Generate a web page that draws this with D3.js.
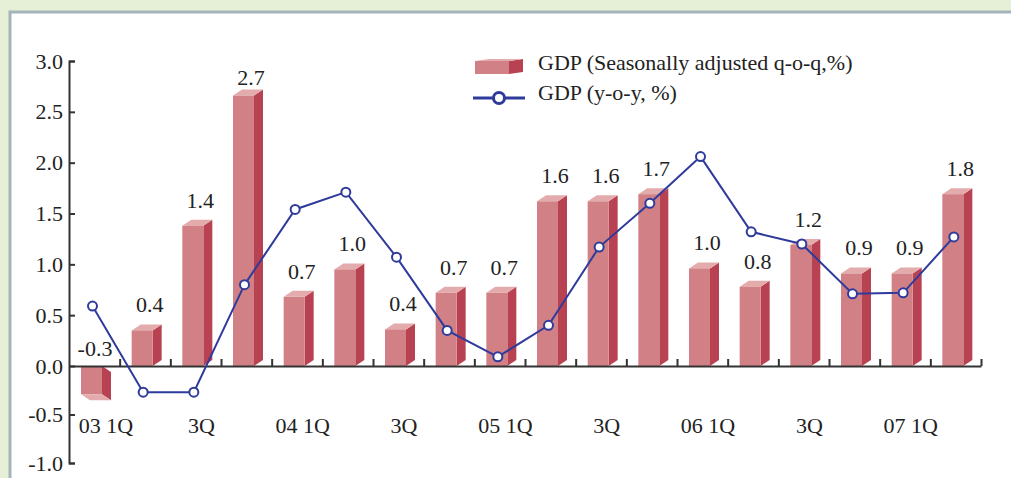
<!DOCTYPE html>
<html>
<head>
<meta charset="utf-8">
<script src="https://cdn.jsdelivr.net/npm/d3@7"></script>
<style>
  body { margin: 0; background: #e6f0d6; }
  svg { display: block; font-family: "Liberation Serif", "Times New Roman", serif; }
</style>
</head>
<body>
<div class="chart"></div>
<script>
var svgWidth = 1011;
var svgHeight = 478;
var fontSize = 22;

// quarters, 03 1Q .. 07 2Q
var quarters = ["03 1Q", "2Q", "3Q", "4Q", "04 1Q", "2Q", "3Q", "4Q",
  "05 1Q", "2Q", "3Q", "4Q", "06 1Q", "2Q", "3Q", "4Q", "07 1Q", "2Q"];

// seasonally adjusted q-o-q (bar heights as drawn)
var qoq = [-0.29, 0.35, 1.38, 2.66, 0.68, 0.95, 0.36, 0.72, 0.72,
  1.62, 1.62, 1.69, 0.96, 0.78, 1.19, 0.91, 0.91, 1.69];

// printed labels above the bars
var qoqLabels = ["-0.3", "0.4", "1.4", "2.7", "0.7", "1.0", "0.4", "0.7", "0.7",
  "1.6", "1.6", "1.7", "1.0", "0.8", "1.2", "0.9", "0.9", "1.8"];

// y-o-y
var yoy = [0.59, -0.27, -0.27, 0.80, 1.54, 1.71, 1.07, 0.35, 0.09,
  0.40, 1.17, 1.60, 2.06, 1.32, 1.20, 0.71, 0.72, 1.27];

var yTicks = [-1.0, -0.5, 0.0, 0.5, 1.0, 1.5, 2.0, 2.5, 3.0];

var legendNames = ["GDP (Seasonally adjusted q-o-q,%)", "GDP (y-o-y, %)"];

var barFront = "#d18185";
var barSide = "#b94252";
var barTop = "#e3abac";
var lineColor = "#2f3b9b";

var svg = d3.select(".chart")
  .append("svg")
  .attr("width", svgWidth)
  .attr("height", svgHeight);

// white panel with grey border
svg.append("rect")
  .attr("x", 10)
  .attr("y", 12)
  .attr("width", svgWidth)
  .attr("height", svgHeight)
  .attr("fill", "#fff")
  .attr("stroke", "#a4b4bc")
  .attr("stroke-width", 3);

// scales
var xBand = d3.scaleBand()
  .domain(d3.range(quarters.length))
  .range([69, 981])
  .padding(0);

var xIdx = d3.scaleLinear()
  .domain([0, quarters.length])
  .range([69, 981]);

// the printed axis is slightly compressed below zero
var yScale = d3.scaleLinear()
  .domain([-1, 0, 3])
  .range([463, 366, 61]);

var frontW = 21, depthX = 9, depthY = 6, frontOff = 12;

// bars
var bars = svg.append("g").selectAll("g")
  .data(qoq)
  .enter()
  .append("g");

bars.each(function(v, i) {
  var g = d3.select(this);
  var x0 = xBand(i) + frontOff;
  var x1 = x0 + frontW;
  var y0 = yScale(0);
  var yv = yScale(v);
  var s = v >= 0 ? -1 : 1;
  // side face
  g.append("path")
    .attr("d", d3.line()([[x1, y0], [x1 + depthX, y0 + s * depthY], [x1 + depthX, yv + s * depthY], [x1, yv]]) + "Z")
    .attr("fill", barSide);
  // top (or bottom) face
  g.append("path")
    .attr("d", d3.line()([[x0, yv], [x1, yv], [x1 + depthX, yv + s * depthY], [x0 + depthX, yv + s * depthY]]) + "Z")
    .attr("fill", barTop);
  // front face
  g.append("rect")
    .attr("x", x0)
    .attr("y", Math.min(y0, yv))
    .attr("width", frontW)
    .attr("height", Math.abs(yv - y0))
    .attr("fill", barFront);
});

// value labels
svg.append("g").selectAll("text")
  .data(qoq)
  .enter()
  .append("text")
  .attr("x", (d, i) => xBand(i) + frontOff + 18 - (d < 0 ? 4 : 0))
  .attr("y", d => d < 0 ? yScale(0) - 10 : Math.max(yScale(d) - 18, yScale(3) + 24))
  .attr("text-anchor", "middle")
  .attr("font-size", fontSize)
  .attr("fill", "#222")
  .text((d, i) => qoqLabels[i]);

// axes
var leftAxis = d3.axisLeft(yScale)
  .tickValues(yTicks)
  .tickSize(-6)
  .tickPadding(6)
  .tickFormat(d => d.toFixed(1));

var yAxis = svg.append("g")
  .attr("transform", "translate(69, 0)")
  .call(leftAxis);

var bottomAxis = d3.axisBottom(xIdx)
  .tickValues(d3.range(1, quarters.length + 1))
  .tickSize(-7)
  .tickSizeOuter(0)
  .tickFormat("");

var xAxis = svg.append("g")
  .attr("transform", `translate(0, ${yScale(0)})`)
  .call(bottomAxis);

[yAxis, xAxis].forEach(function(ax) {
  ax.select(".domain").attr("stroke", "#333").attr("stroke-width", 2);
  ax.selectAll(".tick line").attr("stroke", "#333").attr("stroke-width", 2);
  ax.selectAll("text")
    .attr("font-family", "Liberation Serif, serif")
    .attr("font-size", fontSize)
    .attr("fill", "#222");
});

// quarter labels (every other one)
svg.append("g").selectAll("text")
  .data(quarters.filter((q, i) => i % 2 === 0))
  .enter()
  .append("text")
  .attr("x", (d, i) => xBand(i * 2) + frontOff + 19 + (i === 0 ? 6 : 0))
  .attr("y", 433)
  .attr("text-anchor", "middle")
  .attr("font-size", fontSize)
  .attr("fill", "#222")
  .text(d => d);

// y-o-y line
var line = d3.line()
  .x((d, i) => xBand(i) + frontOff + frontW / 2 + 1)
  .y(d => yScale(d));

svg.append("path")
  .datum(yoy)
  .attr("d", line)
  .attr("fill", "none")
  .attr("stroke", lineColor)
  .attr("stroke-width", 2);

svg.append("g").selectAll("circle")
  .data(yoy)
  .enter()
  .append("circle")
  .attr("cx", (d, i) => xBand(i) + frontOff + frontW / 2 + 1)
  .attr("cy", d => yScale(d))
  .attr("r", 4.5)
  .attr("fill", "#fff")
  .attr("stroke", lineColor)
  .attr("stroke-width", 2);

// legend
var legend = svg.append("g").attr("transform", "translate(475, 0)");

legend.append("path")
  .attr("d", "M34,61L48,59L48,72L34,74Z")
  .attr("fill", barSide);
legend.append("path")
  .attr("d", "M0,61L34,61L48,59L14,59Z")
  .attr("fill", barTop);
legend.append("rect")
  .attr("x", 0).attr("y", 61)
  .attr("width", 34).attr("height", 13)
  .attr("fill", barFront);

legend.append("line")
  .attr("x1", -2).attr("x2", 50)
  .attr("y1", 98).attr("y2", 98)
  .attr("stroke", lineColor)
  .attr("stroke-width", 3);
legend.append("circle")
  .attr("cx", 24).attr("cy", 98).attr("r", 5.5)
  .attr("fill", "#fff")
  .attr("stroke", lineColor)
  .attr("stroke-width", 3);

legend.selectAll("text.lg")
  .data(legendNames)
  .enter()
  .append("text")
  .attr("class", "lg")
  .attr("x", 63)
  .attr("y", (d, i) => 70 + i * 30)
  .attr("font-size", fontSize)
  .attr("fill", "#222")
  .text(d => d);
</script>
</body>
</html>
